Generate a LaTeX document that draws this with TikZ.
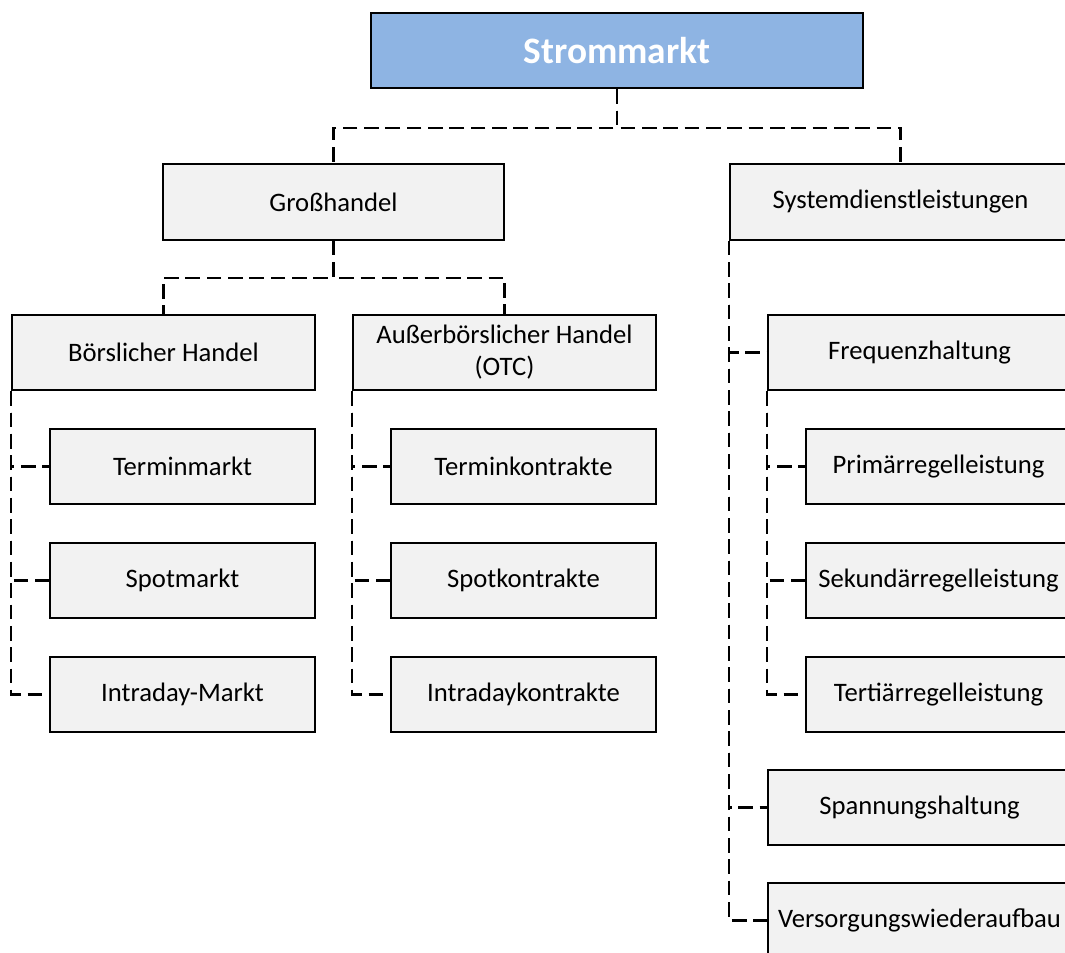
\documentclass[tikz,border=0pt]{standalone}
\usepackage{fontspec}
\setmainfont{Carlito}
\usetikzlibrary{positioning}
\definecolor{sblue}{HTML}{8EB4E3}
\definecolor{sgray}{HTML}{F2F2F2}

\begin{document}
\begin{tikzpicture}[x=0.75pt,y=-0.75pt,
  node distance=27.5pt,
  box/.style={draw,line width=1.5pt,fill=sgray,minimum height=56.5pt,inner sep=0pt,
    align=center,font=\fontsize{20}{24}\selectfont},
  wbox/.style={box,minimum width=255.75pt},
  mbox/.style={box,minimum width=227.25pt},
  sbox/.style={box,minimum width=198.75pt},
  link/.style={line width=1.6pt,dash pattern=on 11pt off 5pt}]
\useasboundingbox (0,0) rectangle (1065,953);
\clip (0,0) rectangle (1065,953);
% top level
\node[box,fill=sblue,minimum width=369pt,text=white,
  font=\fontsize{28}{32}\selectfont\bfseries] (strom) at (617,50.5) {Strommarkt};
\node[wbox] (gross) at (333.5,202) {Großhandel};
\node[wbox] (sys) at (900.5,202) {Systemdienstleistungen};
% Großhandel
\node[mbox] (bors) at (163.5,352.5) {Börslicher Handel};
\node[mbox] (otc) at (504.5,352.5) {Außerbörslicher Handel\\(OTC)};
\node[sbox,below=of bors.south east,anchor=north east] (termin) {Terminmarkt};
\node[sbox,below=of termin] (spot) {Spotmarkt};
\node[sbox,below=of spot] (intra) {Intraday-Markt};
\node[sbox,below=of otc.south east,anchor=north east] (tkon) {Terminkontrakte};
\node[sbox,below=of tkon] (skon) {Spotkontrakte};
\node[sbox,below=of skon] (ikon) {Intradaykontrakte};
% Systemdienstleistungen
\node[mbox] (freq) at (919.5,352.5) {Frequenzhaltung};
\node[sbox,below=of freq.south east,anchor=north east] (prim) {Primärregelleistung};
\node[sbox,below=of prim] (sek) {Sekundärregelleistung};
\node[sbox,below=of sek] (tert) {Tertiärregelleistung};
\node[mbox] (spann) at (919.5,807.5) {Spannungshaltung};
\node[mbox] (vers) at (919.5,920.5) {Versorgungswiederaufbau};
% connectors
\draw[link] (strom.south) -- ++(0,39) -| (gross.north);
\draw[link] (strom.south) -- ++(0,39) -| (sys.north);
\draw[link] (gross.south) -- ++(0,37) -| (bors.north);
\draw[link] (gross.south) -- ++(0,37) -| (otc.north);
\foreach \kid in {termin,spot,intra}
  \draw[link] (bors.south west) |- (\kid.west);
\foreach \kid in {tkon,skon,ikon}
  \draw[link] (otc.south west) |- (\kid.west);
\foreach \kid in {freq,spann,vers}
  \draw[link] (sys.south west) |- (\kid.west);
\foreach \kid in {prim,sek,tert}
  \draw[link] (freq.south west) |- (\kid.west);
\end{tikzpicture}
\end{document}
